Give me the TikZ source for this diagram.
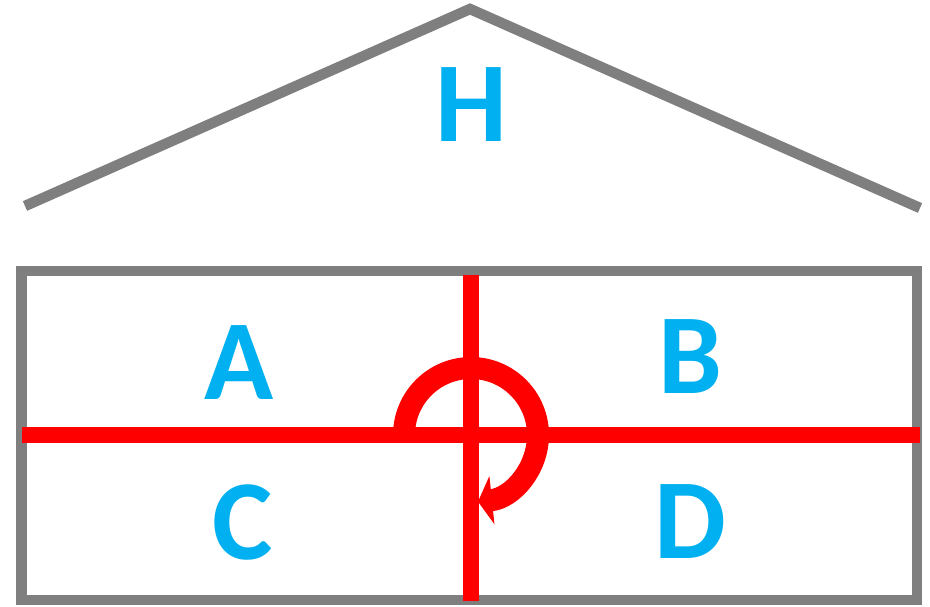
\documentclass[tikz,border=0pt]{standalone}
\usepackage{fontspec}
\setmainfont{Carlito}
\usetikzlibrary{arrows.meta}
\definecolor{wallgray}{HTML}{7F7F7F}
\definecolor{axisred}{HTML}{FF0000}
\definecolor{lettblue}{HTML}{00B0F0}
\begin{document}
\begin{tikzpicture}[x=1pt,y=-1pt,
  wall/.style={draw=wallgray,line width=10.5pt,line join=miter},
  axis/.style={draw=axisred,line width=16pt},
  turn/.style={draw=axisred,line width=22pt,-{Triangle[length=14pt,width=48pt]}},
  lett/.style={text=lettblue,font=\fontsize{114}{114}\selectfont\bfseries,inner sep=0pt,anchor=base}]
\useasboundingbox (0,0) rectangle (930,607);
% roof
\coordinate (rl) at (25,206);
\coordinate (ra) at (470,9);
\coordinate (rr) at (920,208);
\draw[wall] (rl) -- (ra) -- (rr);
% walls
\coordinate (w1) at (21.5,271);
\coordinate (w2) at (917,600);
\draw[wall] (w1) rectangle (w2);
% axes
\coordinate (vt) at (471,275);
\coordinate (vb) at (471,600.5);
\coordinate (hl) at (22,435);
\coordinate (hr) at (920,435);
\draw[axis] (vt) -- (vb);
\draw[axis] (hl) -- (hr);
% rotation arc
\coordinate (c) at (471,435);
\draw[turn] ([xshift=-67pt]c) arc[start angle=180,end angle=444,radius=67];
% letters
\node[lett] (H) at (471,141.7) {H};
\node[lett] (A) at (239,399) {A};
\node[lett] (B) at (690,393) {B};
\node[lett] (C) at (243,559) {C};
\node[lett] (D) at (690,558) {D};
\end{tikzpicture}
\end{document}
